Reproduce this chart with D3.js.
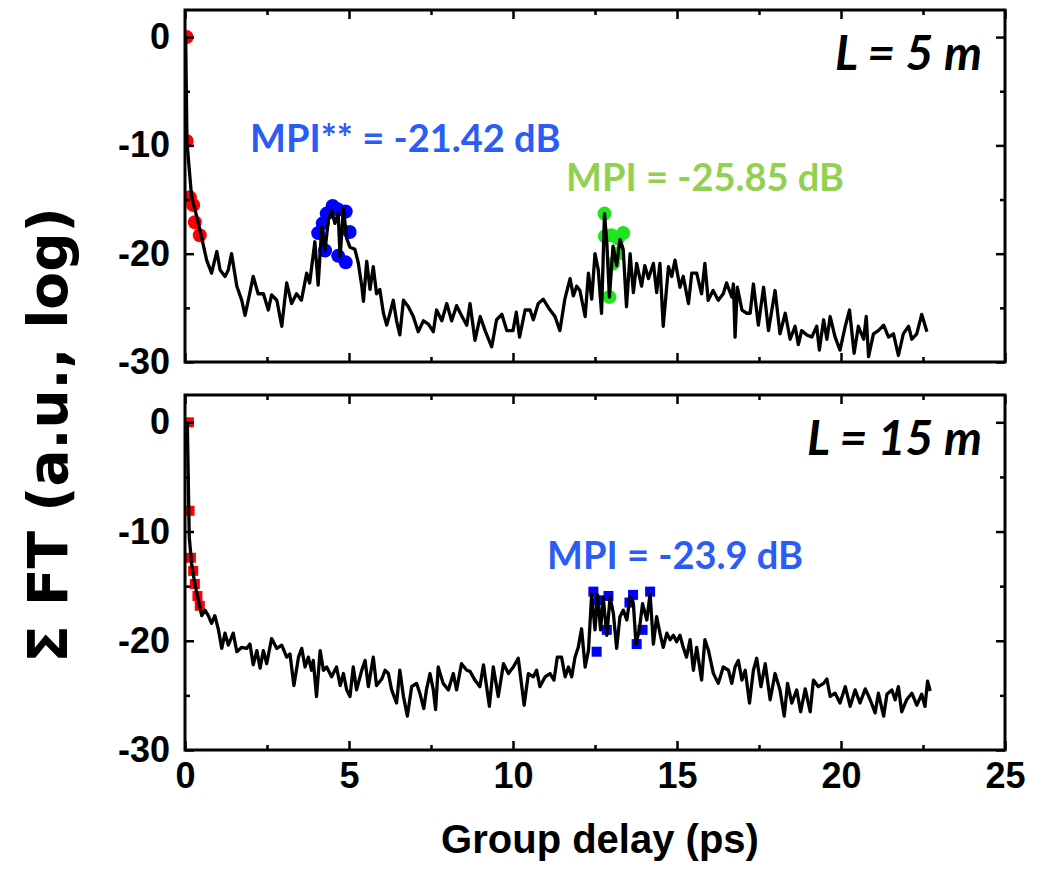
<!DOCTYPE html>
<html>
<head>
<meta charset="utf-8">
<script src="https://cdn.jsdelivr.net/npm/d3@7"></script>
<style>
  html, body { margin: 0; padding: 0; background: #fff; }
  svg { display: block; }
</style>
</head>
<body>
<svg id="chart" width="1061" height="870"></svg>
<script>
// Summed Fourier transform vs group delay, two fibre lengths.

// L = 5 m trace
const delay5 = [0.02,0.06,0.2,0.36,0.5,0.66,0.81,0.97,1.07,1.22,1.32,1.42,1.58,1.73,1.83,1.93,2.08,2.23,2.39,2.54,2.64,2.8,2.95,3.1,3.25,3.4,3.55,3.71,3.8,3.96,4.06,4.17,4.27,4.37,4.47,4.57,4.67,4.73,4.83,4.93,5.03,5.18,5.28,5.39,5.44,5.54,5.64,5.74,5.84,5.94,6.05,6.15,6.25,6.35,6.45,6.55,6.66,6.81,6.96,7.11,7.27,7.42,7.57,7.67,7.83,7.98,8.13,8.28,8.43,8.59,8.69,8.84,9.0,9.15,9.35,9.5,9.66,9.81,10.0,10.1,10.2,10.37,10.52,10.62,10.77,10.92,11.13,11.28,11.43,11.58,11.74,11.84,11.94,12.04,12.2,12.3,12.4,12.5,12.6,12.7,12.79,12.86,12.94,13.05,13.16,13.26,13.36,13.46,13.57,13.67,13.77,13.92,14.02,14.13,14.28,14.38,14.48,14.58,14.74,14.84,14.94,15.09,15.19,15.35,15.45,15.6,15.75,15.85,15.95,16.1,16.26,16.41,16.51,16.67,16.72,16.77,16.84,16.98,17.13,17.23,17.33,17.48,17.64,17.79,17.99,18.14,18.3,18.45,18.6,18.7,18.8,18.96,19.11,19.26,19.34,19.47,19.57,19.67,19.82,19.97,20.13,20.26,20.4,20.53,20.69,20.77,20.84,20.99,21.14,21.3,21.45,21.6,21.75,21.9,22.06,22.16,22.31,22.46,22.62];
const ft5 = [0,-9.7,-14.7,-16.6,-18.4,-20.6,-21.8,-19.8,-21.5,-22.1,-21.5,-20.0,-23.0,-24.3,-25.7,-24.3,-22.1,-23.7,-23.7,-25.2,-23.8,-24.3,-26.7,-22.7,-24.6,-23.7,-24.3,-21.8,-22.7,-18.9,-22.9,-17.5,-19.7,-16.9,-16.0,-17.2,-16.3,-20.3,-15.8,-18.6,-19.4,-19.6,-20.8,-23.0,-24.4,-20.7,-23.3,-21.2,-23.7,-23.3,-25.5,-26.6,-25.5,-24.3,-26.2,-27.5,-24.3,-24.9,-25.8,-27.2,-26.2,-26.5,-27.2,-25.2,-26.2,-24.6,-26.2,-24.8,-25.7,-26.6,-24.6,-28.0,-25.8,-27.1,-28.6,-26.1,-25.6,-27.1,-27.1,-25.4,-27.7,-25.2,-25.2,-26.1,-24.6,-24.2,-25.2,-25.8,-27.1,-24.2,-22.3,-23.9,-23.0,-23.4,-25.8,-21.8,-24.2,-20.0,-21.5,-25.5,-16.3,-19.0,-24.0,-19.3,-21.1,-18.7,-19.6,-24.9,-20.0,-23.6,-20.9,-23.0,-21.1,-22.3,-20.9,-23.6,-20.9,-26.7,-21.2,-22.1,-20.6,-23.1,-22.1,-24.6,-21.8,-21.8,-23.7,-20.9,-24.3,-23.4,-24.3,-23.7,-22.7,-24.0,-22.8,-27.7,-23.1,-25.2,-25.5,-25.5,-22.8,-26.6,-23.1,-27.1,-23.4,-27.4,-25.5,-27.9,-26.7,-28.4,-27.1,-27.5,-27.7,-26.7,-28.9,-26.1,-27.9,-25.8,-27.7,-28.9,-26.7,-25.2,-29.2,-26.7,-27.9,-25.8,-29.5,-27.4,-27.1,-26.6,-27.7,-27.4,-29.4,-27.4,-26.7,-27.9,-27.4,-25.6,-27.2];

// L = 15 m trace
const delay15 = [0.07,0.1,0.13,0.2,0.3,0.41,0.51,0.61,0.71,0.81,0.91,1.02,1.12,1.22,1.32,1.47,1.58,1.73,1.88,1.98,2.08,2.19,2.29,2.39,2.49,2.64,2.8,2.95,3.1,3.2,3.32,3.46,3.56,3.66,3.76,3.86,3.91,4.01,4.12,4.22,4.32,4.47,4.62,4.73,4.83,4.93,5.03,5.13,5.23,5.39,5.49,5.59,5.74,5.84,6.0,6.1,6.2,6.3,6.45,6.55,6.66,6.78,6.91,7.06,7.16,7.28,7.36,7.47,7.57,7.64,7.72,7.87,8.03,8.18,8.28,8.43,8.59,8.69,8.84,8.99,9.1,9.28,9.4,9.55,9.71,9.86,10.01,10.16,10.34,10.47,10.62,10.72,10.82,10.98,11.13,11.25,11.35,11.48,11.59,11.69,11.79,11.89,11.99,12.09,12.2,12.3,12.4,12.5,12.58,12.67,12.75,12.86,12.96,13.06,13.16,13.26,13.36,13.47,13.57,13.67,13.75,13.85,13.95,14.08,14.18,14.28,14.38,14.48,14.58,14.69,14.79,14.89,14.99,15.09,15.19,15.29,15.4,15.5,15.6,15.75,15.85,15.96,16.11,16.26,16.41,16.57,16.67,16.77,16.87,16.98,17.08,17.21,17.33,17.43,17.56,17.69,17.84,17.99,18.14,18.27,18.37,18.5,18.65,18.77,18.91,19.06,19.16,19.31,19.47,19.57,19.67,19.82,19.97,20.13,20.28,20.43,20.58,20.74,20.89,21.04,21.14,21.3,21.4,21.55,21.65,21.75,21.85,22.0,22.16,22.31,22.46,22.56,22.64,22.72];
const ft15 = [0,-5.3,-10.5,-12.9,-14.8,-16.3,-17.7,-17.2,-17.7,-18.4,-17.7,-19.0,-20.7,-19.3,-20.4,-19.3,-21.0,-20.6,-20.7,-20.3,-22.2,-20.9,-22.5,-20.9,-22.1,-19.8,-20.7,-20.4,-21.5,-21.2,-24.1,-21.5,-20.7,-22.4,-21.5,-22.7,-21.8,-25.1,-20.9,-22.7,-22.4,-23.3,-22.4,-24.1,-23.0,-24.5,-25.1,-22.4,-24.5,-22.7,-21.8,-24.2,-21.5,-24.1,-23.5,-22.7,-23.0,-24.5,-25.7,-22.7,-25.1,-26.9,-24.2,-23.9,-24.8,-26.2,-24.5,-23.0,-24.5,-26.3,-22.4,-23.9,-24.5,-23.0,-24.5,-22.1,-22.7,-22.8,-23.6,-24.2,-22.2,-26.0,-22.4,-25.1,-22.1,-23.0,-22.4,-21.6,-25.9,-23.0,-23.3,-22.7,-24.2,-23.3,-23.0,-23.6,-21.5,-21.5,-23.3,-22.4,-23.3,-21.5,-20.6,-18.9,-22.4,-20.9,-15.7,-19.0,-15.8,-19.0,-16.0,-19.5,-16.0,-17.5,-20.7,-17.8,-17.2,-18.1,-16.0,-16.6,-20.3,-19.0,-16.6,-18.1,-15.7,-20.3,-17.8,-19.3,-20.6,-19.3,-19.9,-19.5,-20.1,-19.5,-20.6,-21.5,-19.9,-22.7,-20.6,-23.6,-19.9,-20.9,-23.0,-23.9,-22.4,-22.7,-23.9,-22.4,-21.8,-23.6,-22.7,-25.7,-22.7,-21.6,-24.2,-22.1,-25.4,-23.0,-24.5,-26.9,-23.9,-25.7,-24.5,-26.5,-24.4,-26.5,-23.6,-24.2,-23.9,-23.5,-25.1,-24.8,-25.7,-24.2,-26.0,-24.5,-25.7,-24.4,-25.4,-26.6,-24.8,-26.9,-24.9,-24.5,-25.4,-24.2,-26.5,-25.4,-24.8,-25.9,-24.9,-26.0,-23.7,-24.6];

// highlighted points
const mainPeak5X = [0.05,0.05,0.15,0.25,0.3,0.45];
const mainPeak5Y = [0,-9.6,-14.8,-15.5,-17.1,-18.3];
const mpiA5X = [4.06,4.2,4.32,4.5,4.65,4.9,5.02,4.27,4.67,4.9];
const mpiA5Y = [-18.1,-17.2,-16.3,-15.6,-15.9,-16.1,-18.0,-19.7,-20.2,-20.8];
const mpiB5X = [12.79,12.8,13.0,13.2,13.36,13.05,13.2,12.94];
const mpiB5Y = [-16.3,-18.4,-18.3,-18.6,-18.1,-20.9,-20.0,-24.0];
const mainPeak15X = [0.12,0.14,0.18,0.25,0.3,0.38,0.45];
const mainPeak15Y = [0,-8.1,-12.4,-13.6,-14.8,-15.9,-16.8];
const mpi15X = [12.45,12.62,12.91,13.55,13.66,14.18,12.55,12.86,13.77,13.95];
const mpi15Y = [-15.5,-16.3,-15.9,-16.5,-15.8,-15.5,-21.0,-19.0,-20.3,-19.0];

// axis ticks and labels
const xMajorTicks = [0, 5, 10, 15, 20, 25];
const xMinorTicks = [2.5, 7.5, 12.5, 17.5, 22.5];
const yMajorTicks = [0, -10, -20, -30];
const yMinorTicks = [-5, -15, -25];
const xTitle = "Group delay (ps)";
const yTitle = "\u03A3 FT (a.u., log)";

const svg = d3.select("#chart");
const left = 185, right = 1005;
const x = d3.scaleLinear().domain([0, 25]).range([left, right]);

const panels = [
  { top: 10, bottom: 362, xs: delay5, ys: ft5, label: "L = 5 m", showX: false,
    groups: [
      { xs: mainPeak5X, ys: mainPeak5Y, shape: "circle", color: "#ff0000" },
      { xs: mpiA5X, ys: mpiA5Y, shape: "circle", color: "#0000ff" },
      { xs: mpiB5X, ys: mpiB5Y, shape: "circle", color: "#1ee61e" }
    ],
    notes: [
      { text: "MPI** = -21.42 dB", x: 250, y: 152, color: "#2b5cf6" },
      { text: "MPI = -25.85 dB", x: 566, y: 191, color: "#92d050" }
    ] },
  { top: 395, bottom: 750, xs: delay15, ys: ft15, label: "L = 15 m", showX: true,
    groups: [
      { xs: mainPeak15X, ys: mainPeak15Y, shape: "square", color: "#ff0000" },
      { xs: mpi15X, ys: mpi15Y, shape: "square", color: "#0000ff" }
    ],
    notes: [
      { text: "MPI = -23.9 dB", x: 547, y: 569, color: "#2b5cf6" }
    ] }
];

const tickFont = "bold 36px 'Liberation Sans', Arial, sans-serif";
const plainNumber = d => String(d);

panels.forEach((p, i) => {
  const y = d3.scaleLinear().domain([-30, 2.5]).range([p.bottom, p.top]);
  const g = svg.append("g");
  const clipId = "clip" + i;
  svg.append("clipPath").attr("id", clipId)
    .append("rect").attr("x", left).attr("y", p.top)
    .attr("width", right - left).attr("height", p.bottom - p.top);

  const plot = g.append("g").attr("clip-path", `url(#${clipId})`);

  // highlighted samples, drawn beneath the trace
  p.groups.forEach(grp => {
    const pts = grp.xs.map((d, k) => [d, grp.ys[k]]);
    if (grp.shape === "circle") {
      plot.selectAll(null).data(pts).enter().append("circle")
        .attr("cx", d => x(d[0])).attr("cy", d => y(d[1]))
        .attr("r", 7).attr("fill", grp.color);
    } else {
      plot.selectAll(null).data(pts).enter().append("rect")
        .attr("x", d => x(d[0]) - 5).attr("y", d => y(d[1]) - 5)
        .attr("width", 10).attr("height", 10).attr("fill", grp.color);
    }
  });

  const line = d3.line().x(d => x(d[0])).y(d => y(d[1]));
  plot.append("path")
    .datum(p.xs.map((d, k) => [d, p.ys[k]]))
    .attr("d", line)
    .attr("fill", "none").attr("stroke", "#000")
    .attr("stroke-width", 3.3).attr("stroke-linejoin", "round");

  // axes with inward ticks on all four sides
  const axisStyle = sel => {
    sel.select(".domain").remove();
    sel.selectAll("line").attr("stroke", "#000").attr("stroke-width", 2.5);
    sel.selectAll("text").style("font", tickFont).attr("fill", "#000");
  };
  g.append("g").attr("transform", `translate(0,${p.bottom})`)
    .call(d3.axisBottom(x).tickValues(xMajorTicks).tickSize(-9).tickPadding(12)
      .tickFormat(p.showX ? plainNumber : () => ""))
    .call(axisStyle);
  g.append("g").attr("transform", `translate(0,${p.bottom})`)
    .call(d3.axisBottom(x).tickValues(xMinorTicks).tickSize(-5).tickFormat(() => ""))
    .call(axisStyle);
  g.append("g").attr("transform", `translate(0,${p.top})`)
    .call(d3.axisTop(x).tickValues(xMajorTicks).tickSize(-9).tickFormat(() => ""))
    .call(axisStyle);
  g.append("g").attr("transform", `translate(0,${p.top})`)
    .call(d3.axisTop(x).tickValues(xMinorTicks).tickSize(-5).tickFormat(() => ""))
    .call(axisStyle);
  g.append("g").attr("transform", `translate(${left},0)`)
    .call(d3.axisLeft(y).tickValues(yMajorTicks).tickSize(-9).tickPadding(15).tickFormat(plainNumber))
    .call(axisStyle);
  g.append("g").attr("transform", `translate(${left},0)`)
    .call(d3.axisLeft(y).tickValues(yMinorTicks).tickSize(-5).tickFormat(() => ""))
    .call(axisStyle);
  g.append("g").attr("transform", `translate(${right},0)`)
    .call(d3.axisRight(y).tickValues(yMajorTicks).tickSize(-9).tickFormat(() => ""))
    .call(axisStyle);
  g.append("g").attr("transform", `translate(${right},0)`)
    .call(d3.axisRight(y).tickValues(yMinorTicks).tickSize(-5).tickFormat(() => ""))
    .call(axisStyle);

  // frame
  g.append("rect").attr("x", left).attr("y", p.top)
    .attr("width", right - left).attr("height", p.bottom - p.top)
    .attr("fill", "none").attr("stroke", "#000").attr("stroke-width", 3);

  // fibre length label
  g.append("text").attr("x", 982).attr("y", p.top + 60)
    .attr("text-anchor", "end")
    .style("font", "italic bold 48px Lato, 'Open Sans', sans-serif")
    .text(p.label);

  // MPI annotations
  p.notes.forEach(n => {
    g.append("text").attr("x", n.x).attr("y", n.y)
      .attr("fill", n.color)
      .style("font", "bold 38px Lato, 'Open Sans', sans-serif")
      .text(n.text);
  });
});

// axis titles
svg.append("text")
  .attr("x", 600).attr("y", 853).attr("text-anchor", "middle")
  .style("font", "bold 40px 'Liberation Sans', Arial, sans-serif")
  .text(xTitle);

svg.append("text")
  .attr("transform", "translate(67,435) rotate(-90)")
  .attr("text-anchor", "middle")
  .style("font", "bold 55px 'DejaVu Sans', sans-serif")
  .text(yTitle);
</script>
</body>
</html>
